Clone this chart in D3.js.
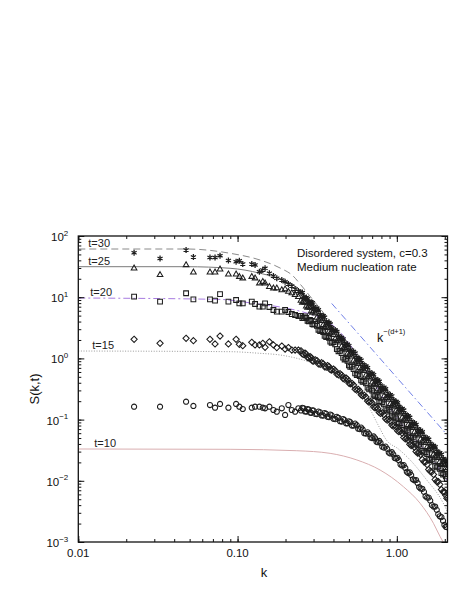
<!DOCTYPE html>
<html>
<head>
<meta charset="utf-8">
<script src="https://cdn.jsdelivr.net/npm/d3@7"></script>
<style>
  html, body { margin: 0; padding: 0; background: #fff; }
  svg { display: block; font-family: "Liberation Sans", Arial, sans-serif; }
</style>
</head>
<body>
<svg id="chart" width="471" height="610"></svg>
<script>
// ── data ──────────────────────────────────────────────────────────────────
// k values of the first pass of points (sparse at small k, dense above 0.25)
const kVals = [
  0.0224, 0.0326, 0.0475, 0.0528, 0.0671, 0.0722, 0.0776, 0.0876, 0.0979, 0.1026,
  0.1078, 0.1228, 0.1288, 0.1371, 0.144, 0.1488, 0.1584, 0.1679, 0.1763, 0.1895,
  0.1988, 0.2085, 0.219, 0.2297, 0.2409,
  0.25, 0.26, 0.27, 0.28, 0.29, 0.30, 0.315, 0.33, 0.345, 0.36,
  0.375, 0.39, 0.41, 0.43, 0.45, 0.47, 0.49, 0.51, 0.535, 0.56,
  0.585, 0.61, 0.64, 0.67, 0.70, 0.73, 0.76, 0.79, 0.83, 0.87,
  0.91, 0.95, 0.99, 1.03, 1.08, 1.13, 1.18, 1.23, 1.29, 1.35,
  1.41, 1.48, 1.55, 1.62, 1.70, 1.78, 1.86, 1.95, 2.03
];
// extra k values in the crowded large-k region
const kDense = [
  0.255, 0.265, 0.275, 0.285, 0.295, 0.307, 0.322, 0.337, 0.352, 0.367,
  0.382, 0.40, 0.42, 0.44, 0.46, 0.48, 0.50, 0.522, 0.547, 0.572,
  0.597, 0.625, 0.655, 0.685, 0.715, 0.745, 0.775, 0.81, 0.85, 0.89,
  0.93, 0.97, 1.01, 1.055, 1.105, 1.155, 1.205, 1.26, 1.32, 1.38,
  1.445, 1.515, 1.585, 1.66, 1.74, 1.82, 1.905, 1.99, 2.06
];

const s30 = [
  53.3, 42.9, 59.0, 45.4, 44.5, 44.5, 47.7, 39.8, 38.0, 39.5,
  34.9, 34.9, 33.6, 26.1, 27.8, 29.7, 24.6, 22.2, 20.4, 19.1,
  17.9, 16.4, 15.2, 13.6, 12.6,
  11.8, 10.1, 9.9, 8.4, 8.3, 7.0, 6.6, 5.2, 4.95, 4.0,
  3.85, 3.15, 2.92, 2.34, 2.2, 1.78, 1.70, 1.38, 1.30, 1.04,
  0.985, 0.80, 0.75, 0.60, 0.57, 0.465, 0.443, 0.365, 0.338, 0.272,
  0.255, 0.208, 0.197, 0.163, 0.151, 0.122, 0.115, 0.094, 0.088, 0.071,
  0.067, 0.0536, 0.050, 0.0408, 0.0378, 0.0305, 0.0287, 0.0231, 0.0219
];
const s30d = [
  11.9, 9.5, 9.4, 7.9, 8.1, 6.4, 6.2, 4.8, 4.7, 3.7,
  3.65, 2.85, 2.74, 2.13, 2.08, 1.64, 1.61, 1.26, 1.22, 0.955,
  0.935, 0.73, 0.705, 0.552, 0.54, 0.427, 0.422, 0.330, 0.318, 0.247,
  0.243, 0.191, 0.188, 0.148, 0.143, 0.112, 0.109, 0.0855, 0.083, 0.0649,
  0.063, 0.0489, 0.0475, 0.037, 0.0358, 0.0279, 0.0271, 0.0212, 0.0207
];

const s25 = [
  29.7, 23.1, 33.6, 25.5, 25.5, 25.5, 28.6, 23.7, 23.7, 21.6,
  20.4, 21.6, 20.4, 16.9, 17.9, 16.9, 14.8, 14.0, 14.0, 13.1,
  13.5, 12.3, 11.7, 10.9, 10.1,
  8.8, 8.4, 7.1, 7.0, 5.9, 5.85, 4.64, 4.38, 3.52, 3.35,
  2.73, 2.63, 2.07, 1.95, 1.56, 1.48, 1.20, 1.16, 0.92, 0.87,
  0.70, 0.67, 0.53, 0.503, 0.405, 0.387, 0.315, 0.303, 0.241, 0.226,
  0.181, 0.173, 0.140, 0.135, 0.1075, 0.102, 0.082, 0.0786, 0.0626, 0.0592,
  0.0477, 0.0446, 0.0357, 0.0339, 0.027, 0.0254, 0.0204, 0.0193, 0.0163
];
const s25d = [
  8.2, 8.2, 6.75, 6.75, 5.6, 5.45, 4.3, 4.1, 3.27, 3.15,
  2.56, 2.43, 1.92, 1.83, 1.45, 1.39, 1.13, 1.08, 0.853, 0.815,
  0.654, 0.624, 0.494, 0.471, 0.378, 0.365, 0.295, 0.282, 0.222, 0.212,
  0.169, 0.163, 0.132, 0.126, 0.1, 0.0955, 0.0766, 0.0733, 0.058, 0.0555,
  0.044, 0.0418, 0.0332, 0.0316, 0.025, 0.0238, 0.019, 0.0182, 0.0152
];

const s20 = [
  10.2, 8.44, 11.6, 9.24, 9.24, 8.77, 11.2, 8.44, 9.0, 7.95,
  7.95, 8.44, 7.74, 7.0, 7.0, 7.95, 6.92, 6.18, 5.80, 5.80,
  6.18, 5.73, 5.31, 5.12, 4.93,
  4.95, 4.62, 4.6, 4.05, 4.1, 3.58, 3.40, 2.80, 2.69, 2.22,
  2.16, 1.80, 1.69, 1.31, 1.22, 0.96, 0.91, 0.725, 0.67, 0.535,
  0.512, 0.414, 0.391, 0.312, 0.298, 0.241, 0.232, 0.190, 0.178, 0.142,
  0.135, 0.109, 0.105, 0.0855, 0.081, 0.0647, 0.0619, 0.0502, 0.0474, 0.038,
  0.0362, 0.0288, 0.0273, 0.0219, 0.0206, 0.0166, 0.0157, 0.0126, 0.0118
];
const s20d = [
  4.55, 4.85, 4.12, 4.27, 3.64, 3.66, 2.94, 2.89, 2.33, 2.31,
  1.88, 1.84, 1.42, 1.33, 1.03, 0.983, 0.771, 0.733, 0.57, 0.55,
  0.438, 0.423, 0.333, 0.32, 0.255, 0.249, 0.2, 0.193, 0.152, 0.146,
  0.116, 0.112, 0.09, 0.0876, 0.0689, 0.0666, 0.053, 0.0513, 0.0404, 0.039,
  0.0308, 0.0295, 0.0233, 0.0224, 0.0176, 0.017, 0.0134, 0.0129, 0.0107
];

const s15 = [
  2.05, 1.765, 2.13, 1.95, 2.05, 1.72, 2.32, 1.72, 2.05, 1.70,
  1.61, 1.83, 1.66, 1.66, 1.765, 1.52, 1.87, 1.66, 1.50, 1.59,
  1.42, 1.50, 1.37, 1.37, 1.37,
  1.33, 1.16, 1.17, 1.02, 1.03, 0.90, 0.92, 0.80, 0.82, 0.72,
  0.74, 0.645, 0.635, 0.538, 0.535, 0.457, 0.456, 0.382, 0.366, 0.302,
  0.293, 0.244, 0.233, 0.193, 0.186, 0.155, 0.151, 0.126, 0.12, 0.098,
  0.0945, 0.078, 0.0759, 0.0634, 0.0599, 0.0484, 0.0459, 0.0376, 0.0352, 0.0284,
  0.0268, 0.0204, 0.0183, 0.0143, 0.0127, 0.0097, 0.0087, 0.0066, 0.0058
];
const s15d = [
  1.18, 1.22, 1.03, 1.07, 0.91, 0.95, 0.81, 0.85, 0.73, 0.765,
  0.655, 0.67, 0.554, 0.563, 0.469, 0.479, 0.395, 0.392, 0.314, 0.312,
  0.254, 0.25, 0.201, 0.198, 0.162, 0.161, 0.131, 0.129, 0.103, 0.101,
  0.0816, 0.0808, 0.0658, 0.0646, 0.051, 0.0495, 0.0394, 0.0381, 0.03, 0.0289,
  0.0222, 0.0203, 0.0153, 0.0141, 0.0105, 0.0097, 0.0072, 0.0066, 0.0052
];

const s10 = [
  0.1625, 0.1625, 0.196, 0.167, 0.173, 0.1565, 0.180, 0.1565, 0.180, 0.1625,
  0.149, 0.1565, 0.1625, 0.1625, 0.1565, 0.153, 0.1625, 0.1435, 0.1346, 0.153,
  0.119, 0.173, 0.1435, 0.1346, 0.153,
  0.141, 0.153, 0.135, 0.146, 0.129, 0.140, 0.123, 0.131, 0.116, 0.124,
  0.110, 0.117, 0.102, 0.107, 0.093, 0.098, 0.087, 0.091, 0.080, 0.081,
  0.070, 0.069, 0.059, 0.058, 0.050, 0.0495, 0.0427, 0.0416, 0.0348, 0.0332,
  0.028, 0.027, 0.0231, 0.0217, 0.0177, 0.0162, 0.0134, 0.0124, 0.0102, 0.0092,
  0.0075, 0.0066, 0.0053, 0.00475, 0.0038, 0.00335, 0.00263, 0.00222, 0.00177
];
const s10d = [
  0.156, 0.136, 0.149, 0.13, 0.142, 0.124, 0.135, 0.117, 0.128, 0.111,
  0.121, 0.103, 0.111, 0.094, 0.102, 0.087, 0.094, 0.080, 0.086, 0.071,
  0.074, 0.060, 0.062, 0.051, 0.053, 0.0435, 0.0448, 0.036, 0.0362, 0.0289,
  0.0293, 0.0236, 0.0237, 0.0185, 0.018, 0.014, 0.0137, 0.0106, 0.0103, 0.0079,
  0.0074, 0.0056, 0.0053, 0.004, 0.0038, 0.00285, 0.00255, 0.0019, 0.00175
];

// theory curves
const fitK30 = [0.01, 0.048, 0.0897, 0.1384, 0.1849, 0.2233, 0.247, 0.298, 0.4404, 0.785, 1.40, 2.08];
const fitS30 = [61.3, 61.3, 52.2, 40.5, 30.0, 22.2, 16.4, 9.0, 2.60, 0.427, 0.0729, 0.0205];
const fitK25 = [0.01, 0.048, 0.0897, 0.1384, 0.2037, 0.247, 0.298, 0.4404, 0.785, 1.40, 2.08];
const fitS25 = [31.5, 31.5, 29.7, 24.6, 17.9, 13.1, 6.92, 2.07, 0.328, 0.054, 0.0145];
const fitK20 = [0.01, 0.0776, 0.1252, 0.2046, 0.2578, 0.33, 0.4217, 0.509, 0.614, 0.785, 1.049, 1.649, 2.08];
const fitS20 = [9.7, 9.2, 7.95, 6.59, 5.73, 4.57, 3.02, 1.66, 0.78, 0.272, 0.0913, 0.0236, 0.0100];
const fitK15 = [0.01, 0.0897, 0.1384, 0.1849, 0.2578, 0.3443, 0.4733, 0.632, 0.763, 0.86, 1.023, 1.212, 1.506, 1.953, 2.08];
const fitS15 = [1.32, 1.287, 1.21, 1.137, 0.942, 0.724, 0.444, 0.209, 0.0816, 0.0464, 0.0331, 0.0219, 0.0111, 0.00434, 0.0031];
const fitK10 = [0.01, 0.0897, 0.2354, 0.381, 0.561, 0.785, 1.1, 1.40, 1.698, 1.871, 1.953];
const fitS10 = [0.0331, 0.0327, 0.031, 0.0281, 0.0219, 0.015, 0.0080, 0.00429, 0.00202, 0.00122, 0.001];

// power-law guide k^-(d+1)
const refK = [0.39, 2.06];
const refS = [7.9, 0.057];

const xTickLabels = ['0.01', '0.10', '1.00'];
const yTickExps = ['-3', '-2', '-1', '0', '1', '2'];
const timeLabels = ['t=30', 't=25', 't=20', 't=15', 't=10'];

// ── scales ────────────────────────────────────────────────────────────────
const svg = d3.select('#chart');
const x = d3.scaleLog().domain([0.01, 2.08]).range([78.3, 447.5]);
const y = d3.scaleLog().domain([1e-3, 1e2]).range([542, 236]);
const [x0, x1] = x.range(), [y0, y1] = y.range();

svg.append('defs').append('clipPath').attr('id', 'plotClip')
  .append('rect').attr('x', x0).attr('y', y1).attr('width', x1 - x0).attr('height', y0 - y1);

// ── curves ────────────────────────────────────────────────────────────────
const line = d3.line().x(d => x(d[0])).y(d => y(d[1])).curve(d3.curveMonotoneX);
const curves = [
  { k: fitK30, s: fitS30, color: '#8a8a8a', dash: '7,4' },
  { k: fitK25, s: fitS25, color: '#7a7a7a', dash: null },
  { k: fitK20, s: fitS20, color: '#a77be0', dash: '7,3,2,3' },
  { k: fitK15, s: fitS15, color: '#999', dash: '1,1.6' },
  { k: fitK10, s: fitS10, color: '#d9aeb0', dash: null }
];
const cg = svg.append('g').attr('clip-path', 'url(#plotClip)');
curves.forEach(c => {
  cg.append('path')
    .attr('d', line(c.k.map((k, i) => [k, c.s[i]])))
    .attr('fill', 'none').attr('stroke', c.color).attr('stroke-width', 1)
    .attr('stroke-dasharray', c.dash);
});

// guide line
cg.append('path')
  .attr('d', d3.line().x(d => x(d[0])).y(d => y(d[1]))(refK.map((k, i) => [k, refS[i]])))
  .attr('fill', 'none').attr('stroke', '#6f7fe6').attr('stroke-width', 1)
  .attr('stroke-dasharray', '7,3,1.5,3');

// ── data points ───────────────────────────────────────────────────────────
const series = [
  { s: s10, d: s10d, type: d3.symbolCircle, size: 21 },
  { s: s15, d: s15d, type: d3.symbolDiamond2, size: 25 },
  { s: s20, d: s20d, type: d3.symbolSquare2, size: 29 },
  { s: s25, d: s25d, type: d3.symbolTriangle2, size: 23 },
  { s: s30, d: s30d, type: d3.symbolAsterisk, size: 24 }
];
const pg = svg.append('g').attr('clip-path', 'url(#plotClip)');
series.forEach(sr => {
  const pts = kVals.map((k, i) => [k, sr.s[i]]).concat(kDense.map((k, i) => [k, sr.d[i]]));
  pg.append('g').selectAll('path')
    .data(pts)
    .enter().append('path')
    .attr('transform', d => `translate(${x(d[0])},${y(d[1])})`)
    .attr('d', d3.symbol().type(sr.type).size(sr.size))
    .attr('fill', 'none')
    .attr('stroke', '#1e1e1e')
    .attr('stroke-width', sr.type === d3.symbolAsterisk ? 1.3 : 1.05);
});

// ── axes (ticks point inward on all four sides) ───────────────────────────
const xMinor = x.ticks().filter(v => v >= 0.01 && v <= 2.08);
const xMajor = [0.01, 0.1, 1];
const yMinor = y.ticks();
const yMajor = [1e-3, 1e-2, 1e-1, 1, 10, 100];

function ticks(axisFn, scale, vals, len, tx, ty) {
  const g = svg.append('g').attr('transform', `translate(${tx},${ty})`)
    .call(axisFn(scale).tickValues(vals).tickSize(-len).tickSizeOuter(0).tickFormat(''));
  g.select('.domain').remove();
  g.selectAll('line').attr('stroke', '#111').attr('stroke-width', 1);
  return g;
}
ticks(d3.axisBottom, x, xMinor, 3, 0, y0);
ticks(d3.axisBottom, x, xMajor, 6, 0, y0);
ticks(d3.axisTop, x, xMinor, 3, 0, y1);
ticks(d3.axisTop, x, xMajor, 6, 0, y1);
ticks(d3.axisLeft, y, yMinor, 3, x0, 0);
ticks(d3.axisLeft, y, yMajor, 6, x0, 0);
ticks(d3.axisRight, y, yMinor, 3, x1, 0);
ticks(d3.axisRight, y, yMajor, 6, x1, 0);

svg.append('rect')
  .attr('x', x0).attr('y', y1).attr('width', x1 - x0).attr('height', y0 - y1)
  .attr('fill', 'none').attr('stroke', '#111').attr('stroke-width', 1.3);

// tick labels
svg.append('g').selectAll('text').data(xMajor).enter().append('text')
  .attr('x', d => x(d)).attr('y', y0 + 15)
  .attr('text-anchor', 'middle').attr('font-size', 11.5).attr('fill', '#111')
  .text((d, i) => xTickLabels[i]);

const yl = svg.append('g').selectAll('text').data(yMajor).enter().append('text')
  .attr('x', x0 - 10).attr('y', d => y(d) + 5)
  .attr('text-anchor', 'end').attr('font-size', 11.5).attr('fill', '#111');
yl.append('tspan').text('10');
yl.append('tspan').attr('dy', -5.5).attr('font-size', 8)
  .text((d, i) => yTickExps[i].replace('-', '\u2212'));

// axis titles
svg.append('text').attr('x', (x0 + x1) / 2 + 1).attr('y', 577)
  .attr('text-anchor', 'middle').attr('font-size', 13).attr('fill', '#111').text('k');
svg.append('text')
  .attr('transform', `translate(39,${(y0 + y1) / 2}) rotate(-90)`)
  .attr('text-anchor', 'middle').attr('font-size', 13).attr('fill', '#111').text('S(k,t)');

// curve labels
const labelS = [fitS30[0], fitS25[0], fitS20[0], fitS15[0], fitS10[0]];
const labelDx = [10, 10, 12, 14, 16];
svg.append('g').selectAll('text').data(labelS).enter().append('text')
  .attr('x', (d, i) => x0 + labelDx[i]).attr('y', d => y(d) - 2)
  .attr('font-size', 11).attr('fill', '#222')
  .text((d, i) => timeLabels[i]);

// annotation
const note = svg.append('text').attr('x', 297).attr('y', 257)
  .attr('font-size', 11.5).attr('fill', '#111');
note.append('tspan').attr('x', 297).text('Disordered system, c=0.3');
note.append('tspan').attr('x', 297).attr('dy', 13.5).text('Medium nucleation rate');

// guide label
const gl = svg.append('text').attr('x', 377).attr('y', 342).attr('font-size', 12.5).attr('fill', '#111');
gl.append('tspan').text('k');
gl.append('tspan').attr('dy', -8).attr('font-size', 7.5).text('\u2212(d+1)');
</script>
</body>
</html>
